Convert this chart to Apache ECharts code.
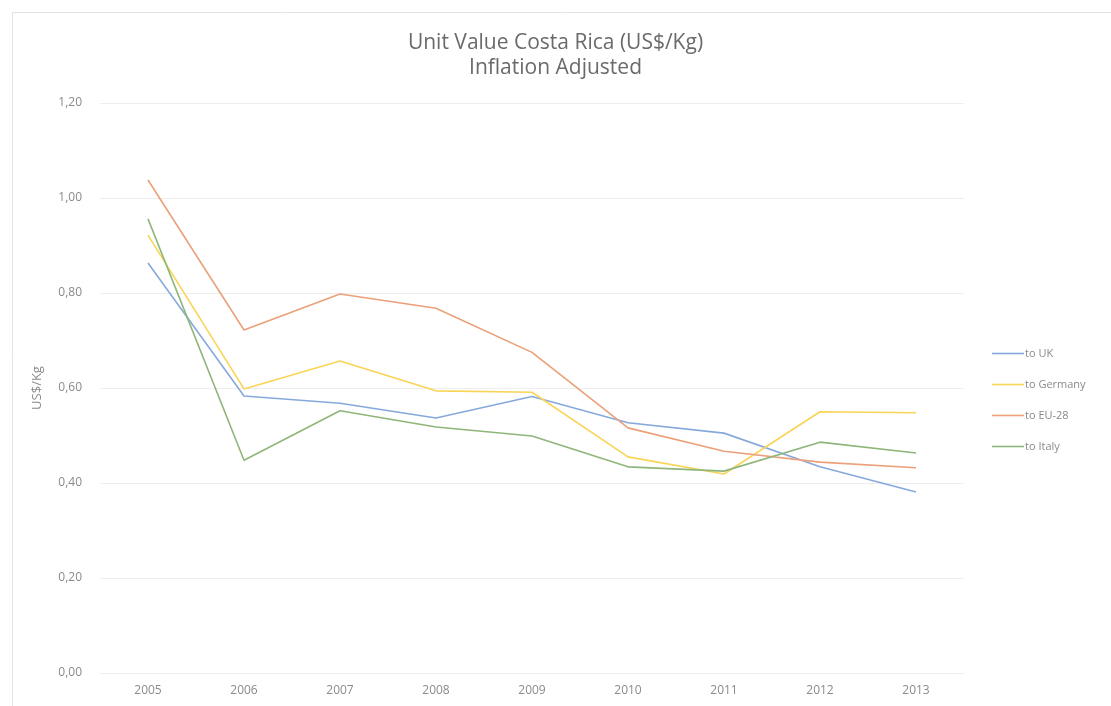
<!DOCTYPE html>
<html>
<head>
<meta charset="utf-8">
<script src="https://cdn.jsdelivr.net/npm/echarts@6/dist/echarts.min.js"></script>
<style>
html,body{margin:0;padding:0;background:#fff;}
#chart{width:1111px;height:706px;}
</style>
</head>
<body>
<div id="chart"></div>
<script>
var years = ['2005','2006','2007','2008','2009','2010','2011','2012','2013'];
var toUK      = [0.863, 0.583, 0.568, 0.537, 0.582, 0.527, 0.505, 0.434, 0.381];
var toGermany = [0.922, 0.598, 0.657, 0.594, 0.591, 0.455, 0.419, 0.550, 0.548];
var toEU28    = [1.038, 0.722, 0.798, 0.768, 0.675, 0.516, 0.467, 0.444, 0.432];
var toItaly   = [0.956, 0.448, 0.552, 0.518, 0.499, 0.434, 0.425, 0.486, 0.463];
var seriesNames = ['to UK', 'to Germany', 'to EU-28', 'to Italy'];
var seriesColors = ['#86a9dc', '#f9d455', '#eba07a', '#8fb67a'];

var chart = echarts.init(document.getElementById('chart'));
var font = 'Open Sans';
function line(name, data, color) {
  return {
    name: name, type: 'line', data: data, symbol: 'none',
    lineStyle: { color: color, width: 1.6 }, itemStyle: { color: color }
  };
}
chart.setOption({
  animation: false,
  backgroundColor: '#ffffff',
  graphic: [{
    type: 'rect', left: 10, top: 10,
    shape: { width: 1120, height: 720 },
    style: { fill: 'none', stroke: '#e3e3e3', lineWidth: 1 }
  }],
  title: {
    text: 'Unit Value Costa Rica (US$/Kg)\nInflation Adjusted',
    left: 'center', top: 26,
    textStyle: { fontFamily: font, fontSize: 21, fontWeight: 'normal', color: '#6a6a6a', lineHeight: 25 }
  },
  legend: {
    orient: 'vertical', left: 987, top: 343, itemGap: 20,
    itemWidth: 32, itemHeight: 1.6,
    data: seriesNames.map(function (n, i) {
      return { name: n, icon: 'rect', itemStyle: { color: seriesColors[i] } };
    }),
    textStyle: { fontFamily: font, fontSize: 11, color: '#8a8a8a', padding: [0, 0, 0, -4] }
  },
  grid: { left: 100, right: 147, top: 103, bottom: 33 },
  xAxis: {
    type: 'category', data: years, boundaryGap: true,
    axisLine: { show: true, lineStyle: { color: '#efefef' } },
    axisTick: { show: false },
    axisLabel: { fontFamily: font, fontSize: 12, color: '#8a8a8a', margin: 12 }
  },
  yAxis: {
    type: 'value', min: 0, max: 1.2, interval: 0.2,
    name: 'US$/Kg', nameLocation: 'middle', nameGap: 56, nameRotate: 90,
    nameTextStyle: { fontFamily: font, fontSize: 13, color: '#8a8a8a' },
    axisLine: { show: false }, axisTick: { show: false },
    splitLine: { lineStyle: { color: '#eeeeee', width: 1 } },
    axisLabel: {
      fontFamily: font, fontSize: 12, color: '#8a8a8a', margin: 18,
      formatter: function (v) { return v.toFixed(2).replace('.', ','); }
    }
  },
  series: [
    line(seriesNames[0], toUK, seriesColors[0]),
    line(seriesNames[1], toGermany, seriesColors[1]),
    line(seriesNames[2], toEU28, seriesColors[2]),
    line(seriesNames[3], toItaly, seriesColors[3])
  ]
});
</script>
</body>
</html>
